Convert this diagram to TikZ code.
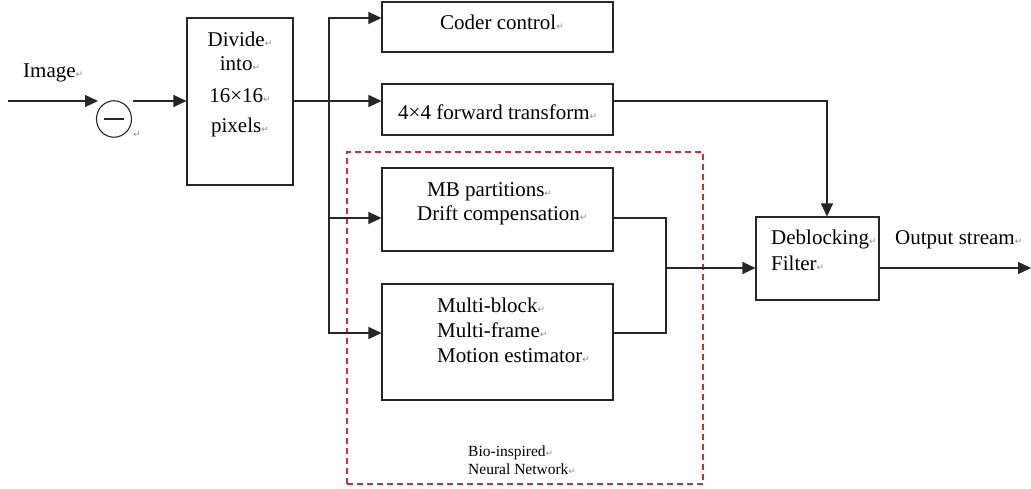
\documentclass[tikz,border=0pt]{standalone}
\usepackage{fontspec}
\setmainfont{Liberation Serif}
\newfontfamily\retfont{DejaVu Sans}
\usetikzlibrary{arrows.meta,shapes.geometric}
\newcommand\rmark{{\retfont\fontsize{9}{9}\selectfont\textcolor{black!45}{↵}}}
\begin{document}
\begin{tikzpicture}[x=1pt,y=-1pt,
  box/.style={draw=black!85, line width=1.1pt, inner sep=0pt},
  conn/.style={draw=black!85, line width=1.2pt},
  arr/.style={conn, -{Triangle[length=13pt,width=12pt]}},
  lbl/.style={inner sep=0pt, anchor=base west, font=\fontsize{21}{25}\selectfont},
  small/.style={inner sep=0pt, anchor=base west, font=\fontsize{15.5}{18}\selectfont},
  nnbox/.style={draw={rgb,255:red,205;green,45;blue,60}, line width=1.2pt, dash pattern=on 6pt off 4pt}]
\useasboundingbox (0,0) rectangle (1031,489);

% boxes
\node[box, minimum width=106pt, minimum height=167pt] (divide) at (240,101.5) {};
\node[box, minimum width=231pt, minimum height=50pt] (coder) at (497.5,27) {};
\node[box, minimum width=231pt, minimum height=51pt] (ft) at (497.5,109.5) {};
\node[box, minimum width=231pt, minimum height=83pt] (mb) at (497.5,209.5) {};
\node[box, minimum width=231pt, minimum height=116pt] (multi) at (497.5,342) {};
\node[box, minimum width=123pt, minimum height=83pt] (deblock) at (817.5,258.5) {};
\node[nnbox, minimum width=356pt, minimum height=332pt, inner sep=0pt] (nn) at (525,318) {};

% subtractor
\node[ellipse, draw=black!85, line width=1.1pt, minimum width=35pt, minimum height=36.5pt, inner sep=0pt] (sub) at (114,119) {};
\draw[line width=1.2pt, black!85] ([xshift=-10pt]sub.center) -- ([xshift=10pt]sub.center);
\node[inner sep=0pt] (subret) at (137,135) {\rmark};

% texts
\node[lbl] (timage) at (23,78) {Image\rmark};
\node[lbl, anchor=base] (td1) at (240,47) {Divide\rmark};
\node[lbl, anchor=base] (td2) at (240,71) {into\rmark};
\node[lbl, anchor=base] (td3) at (240,103) {16×16\rmark};
\node[lbl, anchor=base] (td4) at (240,133) {pixels\rmark};
\node[lbl] (tcoder) at (440,30) {Coder control\rmark};
\node[lbl] (tft) at (398,120) {4×4 forward transform\rmark};
\node[lbl] (tmb1) at (427,197) {MB partitions\rmark};
\node[lbl] (tmb2) at (417,221) {Drift compensation\rmark};
\node[lbl] (tmu1) at (437,312) {Multi-block\rmark};
\node[lbl] (tmu2) at (437,337) {Multi-frame\rmark};
\node[lbl] (tmu3) at (437,362) {Motion estimator\rmark};
\node[lbl] (tdb1) at (771,245) {Deblocking\rmark};
\node[lbl] (tdb2) at (771,270) {Filter\rmark};
\node[lbl] (tout) at (895,245) {Output stream\rmark};
\node[small] (tnn1) at (468,456) {Bio-inspired\rmark};
\node[small] (tnn2) at (468,474) {Neural Network\rmark};

% coordinates
\coordinate (inA) at (8,101);
\coordinate (inB) at (98,101);
\coordinate (subout) at (133,101);
\coordinate (bus) at (329,101);
\coordinate (merge) at (666,268);
\coordinate (outend) at (1031,268);

% connectors
\draw[arr] (inA) -- (inB);
\draw[arr] (subout) -- (divide.west |- subout);
\draw[conn] (divide.east |- bus) -- (bus);
\draw[arr] (bus) |- ([yshift=9pt]coder.west);
\draw[arr] (bus) -- ([yshift=8.5pt]ft.west);
\draw[arr] (bus) |- ([yshift=-8.5pt]mb.west);
\draw[arr] (bus) |- ([yshift=9pt]multi.west);
\draw[conn] ([yshift=-8.5pt]mb.east) -| (merge);
\draw[conn] ([yshift=9pt]multi.east) -| (merge);
\draw[arr] (merge) -- ([yshift=-9.5pt]deblock.west);
\draw[arr] ([yshift=8.5pt]ft.east) -| ([xshift=9.5pt]deblock.north);
\draw[arr] ([yshift=-9.5pt]deblock.east) -- (outend);
\end{tikzpicture}
\end{document}
